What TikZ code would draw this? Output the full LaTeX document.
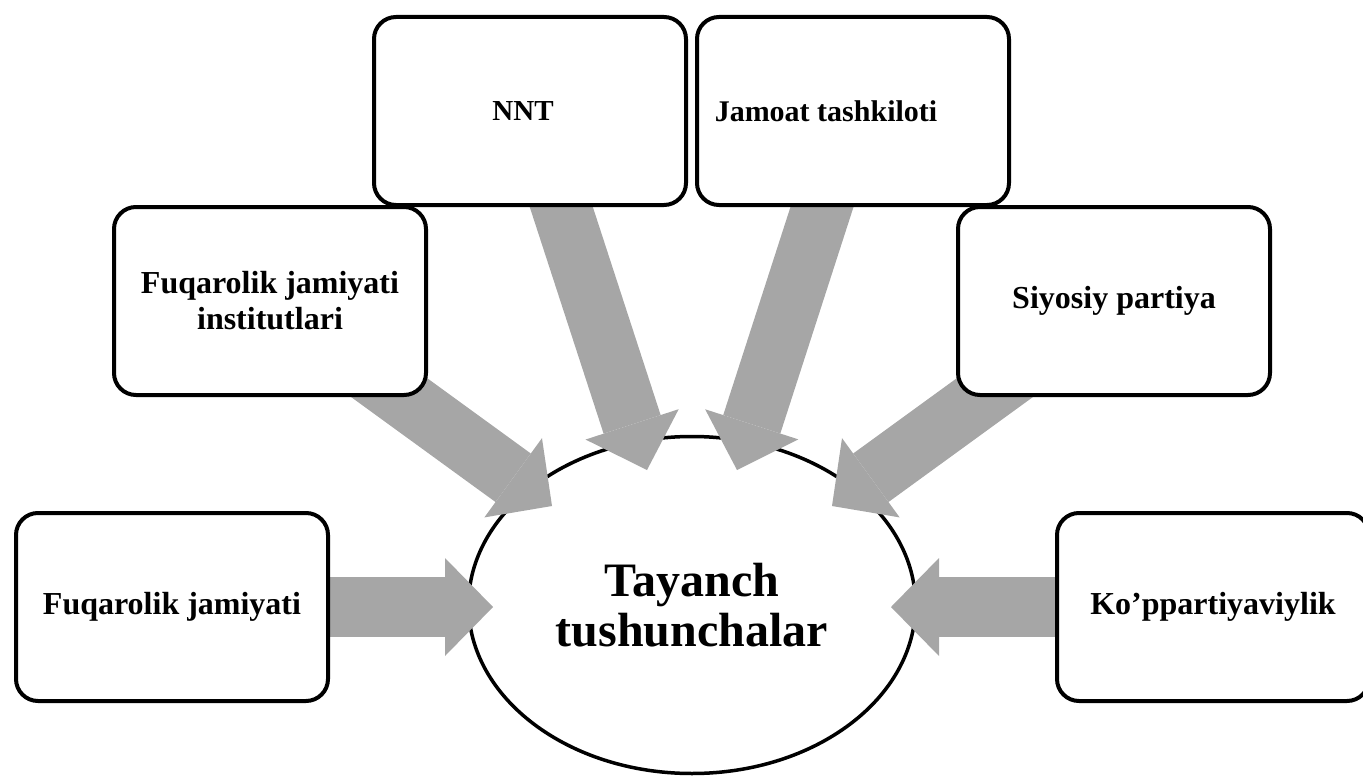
\documentclass[tikz,border=0pt]{standalone}
\usepackage{fontspec}
\setmainfont{Liberation Serif}
\usetikzlibrary{arrows.meta,shapes.geometric}
\pgfdeclarelayer{hublayer}
\pgfdeclarelayer{arrowlayer}
\pgfsetlayers{hublayer,arrowlayer,main}
\definecolor{arrowgray}{RGB}{166,166,166}
\tikzset{
  box/.style={draw=black, line width=4pt, rounded corners=22pt, fill=white,
    minimum width=312pt, minimum height=188pt, inner sep=0pt, align=center,
    font=\fontsize{32}{36}\selectfont\bfseries},
  hub/.style={ellipse, draw=black, line width=3.5pt, fill=white,
    minimum width=447pt, minimum height=337pt, inner sep=0pt, align=center,
    font=\fontsize{48}{50}\selectfont\bfseries},
  fatarrow/.style={draw=arrowgray, line width=60pt,
    -{Triangle[width=98pt,length=48pt,line width=0pt,fill=arrowgray,color=arrowgray]}}
}
\begin{document}
\begin{tikzpicture}[x=1pt,y=-1pt]
\useasboundingbox (0,0) rectangle (1363,776);
\begin{pgfonlayer}{hublayer}
  \node[hub] (hub) at (692,605) {Tayanch\\tushunchalar};
\end{pgfonlayer}
\node[box] (fj)  at (172,607) {Fuqarolik jamiyati};
\node[box] (fji) at (270,301) {Fuqarolik jamiyati\\institutlari};
\node[box, font=\fontsize{29}{34}\selectfont\bfseries] (nnt) at (530,111) {NNT\hspace*{14pt}};
\node[box, font=\fontsize{30}{35}\selectfont\bfseries] (jam) at (853,111) {Jamoat tashkiloti\hspace*{54pt}};
\node[box] (siy) at (1114,301) {Siyosiy partiya};
\node[box] (kop) at (1213,607) {Ko’ppartiyaviylik};
\coordinate (tfj)  at (493,607);
\coordinate (tfji) at (552,506);
\coordinate (tnnt) at (647,470);
\coordinate (tjam) at (737,470);
\coordinate (tsiy) at (832,506);
\coordinate (tkop) at (891,607);
\begin{pgfonlayer}{arrowlayer}
  \draw[fatarrow] (fj.center)  -- (tfj);
  \draw[fatarrow] (fji.center) -- (tfji);
  \draw[fatarrow] (nnt.center) -- (tnnt);
  \draw[fatarrow] (jam.center) -- (tjam);
  \draw[fatarrow] (siy.center) -- (tsiy);
  \draw[fatarrow] (kop.center) -- (tkop);
\end{pgfonlayer}
\end{tikzpicture}
\end{document}
